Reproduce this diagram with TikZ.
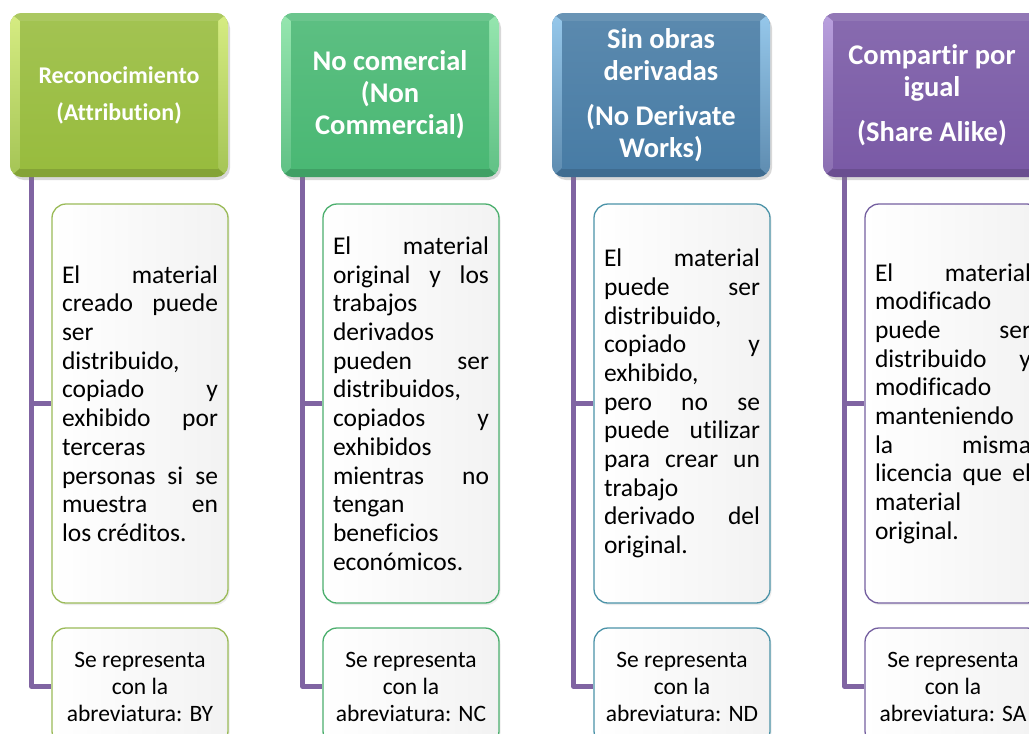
\documentclass[tikz,border=0pt]{standalone}
\usepackage{fontspec}
\setmainfont{Carlito}[Ligatures={NoCommon,NoRare,NoContextual}]
\usetikzlibrary{calc,shadows}
\definecolor{spine}{RGB}{128,100,162}
\definecolor{cA}{RGB}{152,188,62}
\definecolor{cAh}{RGB}{214,236,130}
\definecolor{cAb}{RGB}{155,187,89}
\definecolor{cB}{RGB}{74,184,116}
\definecolor{cBh}{RGB}{150,230,175}
\definecolor{cBb}{RGB}{76,175,110}
\definecolor{cC}{RGB}{72,124,165}
\definecolor{cCh}{RGB}{150,200,235}
\definecolor{cCb}{RGB}{75,147,168}
\definecolor{cD}{RGB}{122,90,166}
\definecolor{cDh}{RGB}{185,160,222}
\definecolor{cDb}{RGB}{117,96,160}
\newcommand\JLn[1]{\hbox to 156pt{#1}}
\newcommand\LLn[1]{\hbox to 156pt{#1\hfill}}
\newcommand\bodyfont{\fontsize{25.5}{28.7}\selectfont}
\pgfdeclarelayer{bg}
\pgfsetlayers{bg,main}
\tikzset{
  hdr/.style n args={2}{rectangle, rounded corners=12pt, minimum width=218pt,
    minimum height=164pt, inner sep=0pt, text=white, align=center,
    drop shadow={opacity=0.3, shadow xshift=2pt, shadow yshift=-3pt},
    path picture={
      \coordinate (pNW) at (path picture bounding box.north west);
      \coordinate (pNE) at (path picture bounding box.north east);
      \coordinate (pSW) at (path picture bounding box.south west);
      \coordinate (pSE) at (path picture bounding box.south east);
      \coordinate (iNW) at ($(pNW)+(10pt,-8pt)$);
      \coordinate (iNE) at ($(pNE)+(-10pt,-8pt)$);
      \coordinate (iSW) at ($(pSW)+(10pt,9pt)$);
      \coordinate (iSE) at ($(pSE)+(-10pt,9pt)$);
      \fill[sharp corners,#1] (pSW) rectangle (pNE);
      \fill[sharp corners,#1!82!white] (pNW)--(pNE)--(iNE)--(iNW)--cycle;
      \fill[sharp corners,#1!87!black] (pSW)--(pSE)--(iSE)--(iSW)--cycle;
      \shade[sharp corners,top color=#2,bottom color=#1!88!white] (pNW)--(iNW)--(iSW)--(pSW)--cycle;
      \shade[sharp corners,top color=#2,bottom color=#1!88!white] (pNE)--(iNE)--(iSE)--(pSE)--cycle;
      \shade[sharp corners,top color=#1!90!white,bottom color=#1] (iNW) rectangle (iSE);
    }},
  hfA/.style={font=\fontsize{24}{26}\selectfont\bfseries},
  hfB/.style={font=\fontsize{28.5}{32}\selectfont\bfseries},
  mid/.style={draw=#1, line width=1.3pt, rounded corners=14pt, minimum width=176pt,
    minimum height=399pt, inner sep=0pt, left color=white, right color=black!5,
    drop shadow={opacity=0.15, shadow xshift=1.5pt, shadow yshift=-2pt}},
  bot/.style={draw=#1, line width=1.3pt, rounded corners=14pt, minimum width=176pt,
    minimum height=117pt, inner sep=0pt, left color=white, right color=black!5,
    align=center, font=\fontsize{23.5}{27}\selectfont,
    drop shadow={opacity=0.15, shadow xshift=1.5pt, shadow yshift=-2pt}},
  conn/.style={draw=spine, line width=5pt, line join=round}
}
\begin{document}
\begin{tikzpicture}[x=1pt,y=-1pt]
\useasboundingbox (0,0) rectangle (1029,734);
\clip (0,0) rectangle (1029,734);

% column 1
\node[hdr={cA}{cAh}, hfA] (h1) at (119,95) {Reconocimiento\\[11pt](Attribution)};
\node[mid=cAb] (m1) at (140,403.5) {\vbox{\bodyfont
  \JLn{El\hfill material}
  \JLn{creado\hfill puede}
  \LLn{ser}
  \LLn{distribuido,}
  \JLn{copiado\hfill y}
  \JLn{exhibido\hfill por}
  \LLn{terceras}
  \JLn{personas\hfill si\hfill se}
  \JLn{muestra\hfill en}
  \LLn{los créditos.}}};
\node[bot=cAb] (b1) at (140,686.5) {Se representa\\con la\\abreviatura: BY};

% column 2
\node[hdr={cB}{cBh}, hfB] (h2) at (390,95) {No comercial\\(Non\\Commercial)};
\node[mid=cBb] (m2) at (411,403.5) {\vbox{\bodyfont
  \JLn{El\hfill material}
  \JLn{original\hfill y\hfill los}
  \LLn{trabajos}
  \LLn{derivados}
  \JLn{pueden\hfill ser}
  \LLn{distribuidos,}
  \JLn{copiados\hfill y}
  \LLn{exhibidos}
  \JLn{mientras\hfill no}
  \LLn{tengan}
  \LLn{beneficios}
  \LLn{económicos.}}};
\node[bot=cBb] (b2) at (411,686.5) {Se representa\\con la\\abreviatura: NC};

% column 3
\node[hdr={cC}{cCh}, hfB] (h3) at (661,95) {Sin obras\\derivadas\\[13pt](No Derivate\\Works)};
\node[mid=cCb] (m3) at (682,403.5) {\vbox{\bodyfont
  \JLn{El\hfill material}
  \JLn{puede\hfill ser}
  \LLn{distribuido,}
  \JLn{copiado\hfill y}
  \LLn{exhibido,}
  \JLn{pero\hfill no\hfill se}
  \JLn{puede\hfill utilizar}
  \JLn{para\hfill crear\hfill un}
  \LLn{trabajo}
  \JLn{derivado\hfill del}
  \LLn{original.}}};
\node[bot=cCb] (b3) at (682,686.5) {Se representa\\con la\\abreviatura: ND};

% column 4
\node[hdr={cD}{cDh}, hfB] (h4) at (932,95) {Compartir por\\igual\\[13pt](Share Alike)};
\node[mid=cDb] (m4) at (953,403.5) {\vbox{\bodyfont
  \JLn{El\hfill material}
  \LLn{modificado}
  \JLn{puede\hfill ser}
  \JLn{distribuido\hfill y}
  \LLn{modificado}
  \LLn{manteniendo}
  \JLn{la\hfill misma}
  \JLn{licencia\hfill que\hfill el}
  \LLn{material}
  \LLn{original.}}};
\node[bot=cDb] (b4) at (953,686.5) {Se representa\\con la\\abreviatura: SA};

% connectors
\begin{pgfonlayer}{bg}
\fill[white] (0,0) rectangle (1029,734);
\foreach \i in {1,2,3,4}{
  \coordinate (s\i) at ($(h\i.south west)+(22pt,0pt)$);
  \draw[conn] (s\i) |- (b\i.west);
  \draw[conn] (m\i.west -| s\i) -- (m\i.west);
}
\end{pgfonlayer}
\end{tikzpicture}
\end{document}
